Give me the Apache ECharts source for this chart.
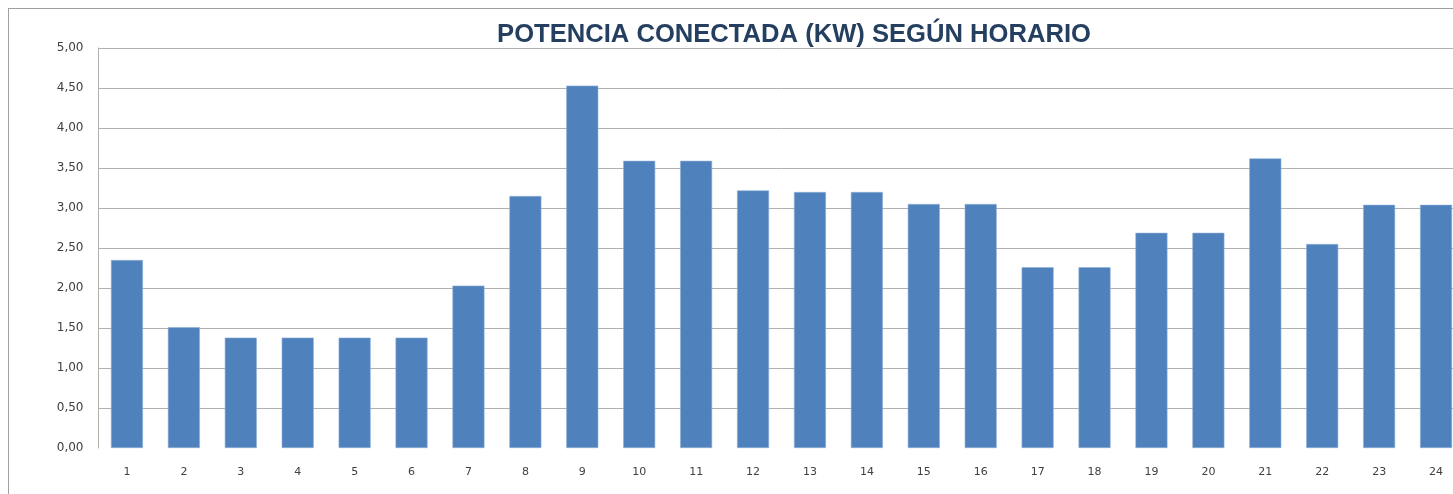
<!DOCTYPE html>
<html>
<head>
<meta charset="utf-8">
<script src="https://cdn.jsdelivr.net/npm/echarts@6/dist/echarts.min.js"></script>
<style>
  html, body { margin: 0; padding: 0; background: #fff; overflow: hidden; width: 1453px; height: 494px; }
  #frame { position: absolute; left: 8px; top: 8px; width: 1460px; height: 500px; border: 1px solid #a0a0a0; box-sizing: border-box; }
  #potenciaChart { position: absolute; left: 0; top: 0; width: 1470px; height: 494px; }
</style>
</head>
<body>
<div id="frame"></div>
<div id="potenciaChart"></div>
<script>
// horas del dia
var horas = ['1','2','3','4','5','6','7','8','9','10','11','12',
             '13','14','15','16','17','18','19','20','21','22','23','24'];
// potencia conectada (kW)
var potencia = [2.35, 1.51, 1.38, 1.38, 1.38, 1.38, 2.03, 3.15, 4.53, 3.59, 3.59, 3.22,
                3.20, 3.20, 3.05, 3.05, 2.26, 2.26, 2.69, 2.69, 3.62, 2.55, 3.04, 3.04];
var yTicks = { min: 0, max: 5, interval: 0.5 };
var titulo = 'POTENCIA CONECTADA (KW) SEGÚN HORARIO';

(function(){
    // the chart is wider than the window: the last column is cut at the right edge
    var dom = document.getElementById('potenciaChart');
    var chart = echarts.init(dom);

    var option = {
        animation: false,
        title: {
            text: titulo,
            left: 789,
            top: 17,
            textAlign: 'center',
            textStyle: {
                fontFamily: 'Liberation Sans, Arial, sans-serif',
                fontSize: 25.6,
                fontWeight: 'bold',
                color: '#243f60'
            }
        },
        grid: {
            left: 98.5,
            top: 48,
            width: 1366,
            height: 400
        },
        xAxis: {
            type: 'category',
            data: horas,
            axisLine: { show: false },
            axisTick: { show: false },
            axisLabel: {
                margin: 19,
                fontFamily: 'DejaVu Sans, sans-serif',
                fontSize: 11,
                color: '#404040'
            }
        },
        yAxis: {
            type: 'value',
            min: yTicks.min,
            max: yTicks.max,
            interval: yTicks.interval,
            axisLine: { show: true, lineStyle: { color: '#b0b0b0', width: 1 } },
            axisTick: { show: false },
            axisLabel: {
                margin: 15,
                fontFamily: 'DejaVu Sans, sans-serif',
                fontSize: 12,
                color: '#404040',
                formatter: function (v) { return v.toFixed(2).replace('.', ','); }
            },
            splitLine: {
                show: true,
                showMinLine: false,
                lineStyle: { color: '#b0b0b0', width: 1 }
            }
        },
        series: [{
            type: 'bar',
            data: potencia,
            barWidth: 32,
            itemStyle: {
                color: '#4f81bd',
                borderColor: '#8fb0d8',
                borderWidth: 0.6
            }
        }]
    };
    chart.setOption(option, true);
})();
</script>
</body>
</html>
